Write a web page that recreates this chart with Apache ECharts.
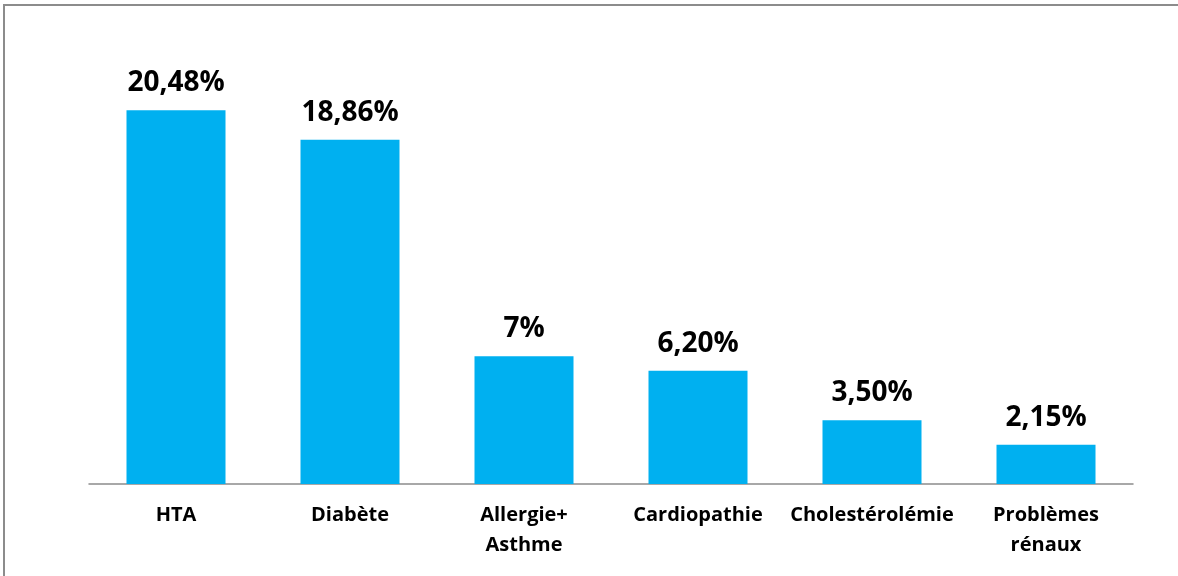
<!DOCTYPE html>
<html>
<head>
<meta charset="utf-8">
<script src="https://cdn.jsdelivr.net/npm/echarts@6/dist/echarts.min.js"></script>
<style>
html,body{margin:0;padding:0;background:#fff;}
#chart{width:1178px;height:576px;}
</style>
</head>
<body>
<div id="chart"></div>
<script>
var categories = ['HTA', 'Diabète', 'Allergie+\nAsthme', 'Cardiopathie', 'Cholestérolémie', 'Problèmes\nrénaux'];
var values = [20.48, 18.86, 7, 6.20, 3.50, 2.15];
var valueLabels = ['20,48%', '18,86%', '7%', '6,20%', '3,50%', '2,15%'];

var chart = echarts.init(document.getElementById('chart'));
chart.setOption({
  animation: false,
  backgroundColor: '#ffffff',
  graphic: [{
    type: 'rect',
    shape: {x: 4, y: 5, width: 1300, height: 700},
    style: {fill: 'none', stroke: '#8c8c8c', lineWidth: 2},
    silent: true
  }],
  grid: {left: 89, right: 45, top: 46, bottom: 92},
  xAxis: {
    type: 'category',
    data: categories,
    axisLine: {show: true, lineStyle: {color: '#8c8c8c', width: 1.5}},
    axisTick: {show: false},
    axisLabel: {
      interval: 0,
      margin: 16,
      color: '#000',
      fontFamily: 'Open Sans',
      fontWeight: 'bold',
      fontSize: 20,
      lineHeight: 30
    }
  },
  yAxis: {
    type: 'value',
    min: 0,
    max: 24,
    show: false,
    splitLine: {show: false}
  },
  series: [{
    type: 'bar',
    data: values,
    barWidth: 99,
    itemStyle: {color: '#00B0F0'},
    label: {
      show: true,
      position: 'top',
      distance: 13,
      color: '#000',
      fontFamily: 'Open Sans',
      fontWeight: 'bold',
      fontSize: 28,
      formatter: function (p) { return valueLabels[p.dataIndex]; }
    }
  }]
});
</script>
</body>
</html>
